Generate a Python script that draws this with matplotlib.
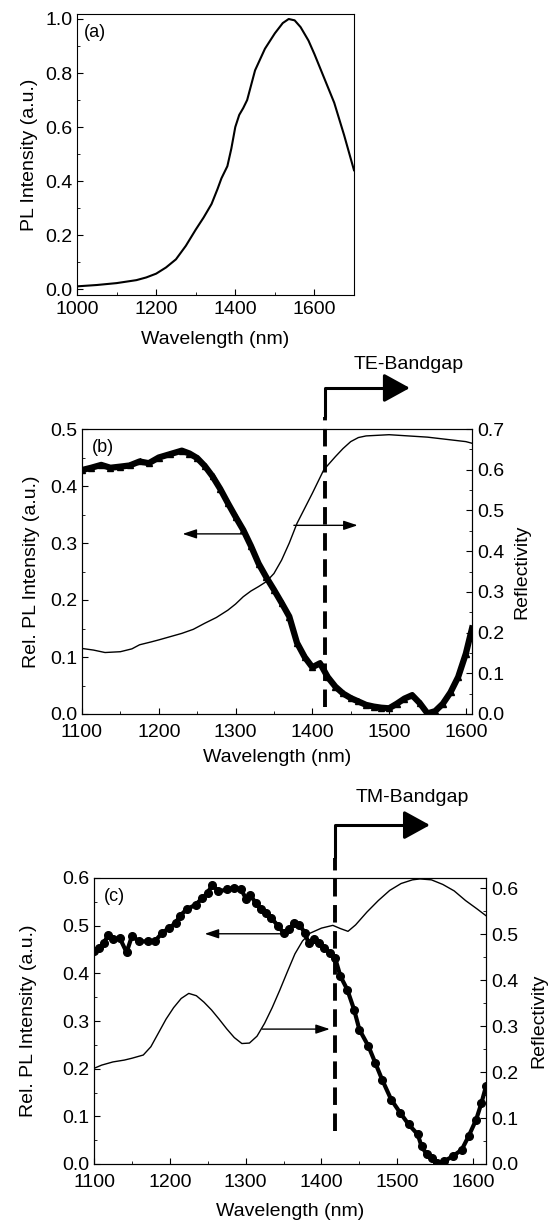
import matplotlib
matplotlib.use('Agg')
import matplotlib.pyplot as plt
import matplotlib.transforms as mtransforms
from matplotlib.ticker import MultipleLocator
import numpy as np

plt.rcParams['font.family'] = ['Liberation Sans', 'DejaVu Sans']
plt.rcParams['font.size'] = 14
plt.rcParams['xtick.labelsize'] = 14
plt.rcParams['ytick.labelsize'] = 14
plt.rcParams['xtick.direction'] = 'in'
plt.rcParams['ytick.direction'] = 'in'
plt.rcParams['xtick.major.size'] = 4
plt.rcParams['ytick.major.size'] = 4
plt.rcParams['xtick.minor.size'] = 2
plt.rcParams['ytick.minor.size'] = 2
plt.rcParams['xtick.major.pad'] = 4.5

# (a) PL spectrum
wl_a = np.array([1000, 1050, 1100, 1150, 1175, 1200, 1225, 1250, 1275, 1300, 1320,
                 1340, 1355, 1365, 1380, 1390, 1400, 1410, 1420, 1430, 1440, 1450,
                 1475, 1500, 1520, 1535, 1550, 1565, 1585, 1600, 1625, 1650, 1675, 1700])
pl_a = np.array([0.01, 0.015, 0.022, 0.033, 0.043, 0.057, 0.08, 0.11, 0.16, 0.22, 0.265,
                 0.315, 0.37, 0.41, 0.455, 0.52, 0.60, 0.645, 0.67, 0.70, 0.755, 0.81,
                 0.89, 0.947, 0.985, 1.0, 0.995, 0.97, 0.92, 0.87, 0.78, 0.69, 0.57, 0.44])

# (b) TE: PL and reflectivity
wl_b_pl = np.array([1100, 1112, 1125, 1137, 1150, 1162, 1175, 1187, 1200, 1215, 1230,
                    1240, 1250, 1260, 1270, 1280, 1290, 1300, 1310, 1320, 1330, 1340,
                    1350, 1360, 1370, 1380, 1390, 1400, 1410, 1420, 1430, 1440, 1450,
                    1460, 1470, 1480, 1490, 1500, 1510, 1520, 1530, 1540, 1550, 1560,
                    1570, 1580, 1590, 1600, 1608])
pl_b = np.array([0.428, 0.432, 0.437, 0.432, 0.434, 0.436, 0.443, 0.440, 0.450, 0.456, 0.462,
                 0.457, 0.449, 0.435, 0.417, 0.395, 0.370, 0.346, 0.323, 0.295, 0.264, 0.240,
                 0.218, 0.195, 0.171, 0.125, 0.100, 0.082, 0.089, 0.065, 0.048, 0.036, 0.028,
                 0.022, 0.016, 0.013, 0.011, 0.010, 0.018, 0.027, 0.033, 0.019, 0.001, 0.005,
                 0.018, 0.038, 0.065, 0.106, 0.150])
wl_b_r = np.array([1100, 1115, 1130, 1150, 1165, 1175, 1190, 1200, 1215, 1230, 1245,
                   1260, 1275, 1290, 1300, 1310, 1320, 1330, 1340, 1350, 1360, 1370,
                   1380, 1390, 1400, 1415, 1430, 1440, 1450, 1460, 1470, 1500, 1550,
                   1600, 1608])
refl_b = np.array([0.161, 0.157, 0.151, 0.153, 0.160, 0.170, 0.177, 0.182, 0.190, 0.198,
                   0.208, 0.223, 0.237, 0.255, 0.270, 0.288, 0.302, 0.313, 0.325, 0.345,
                   0.378, 0.420, 0.468, 0.505, 0.542, 0.600, 0.632, 0.652, 0.669, 0.679,
                   0.683, 0.686, 0.680, 0.669, 0.665])

# (c) TM: PL and reflectivity
wl_c_pl = np.array([1100, 1106, 1113, 1119, 1125, 1134, 1143, 1150, 1160, 1171, 1180,
                    1190, 1199, 1208, 1213, 1222, 1234, 1243, 1250, 1256, 1264, 1276,
                    1285, 1294, 1301, 1306, 1313, 1320, 1327, 1334, 1343, 1350, 1357,
                    1364, 1371, 1378, 1383, 1390, 1397, 1404, 1411, 1418, 1425, 1434,
                    1443, 1450, 1462, 1471, 1480, 1492, 1504, 1515, 1527, 1532, 1539,
                    1546, 1553, 1562, 1573, 1585, 1594, 1604, 1611, 1617])
pl_c = np.array([0.446, 0.453, 0.464, 0.481, 0.471, 0.474, 0.444, 0.478, 0.467, 0.467, 0.467,
                 0.485, 0.495, 0.506, 0.520, 0.534, 0.544, 0.558, 0.569, 0.586, 0.572, 0.576,
                 0.579, 0.576, 0.555, 0.565, 0.548, 0.534, 0.527, 0.516, 0.499, 0.485, 0.492,
                 0.506, 0.502, 0.485, 0.464, 0.471, 0.464, 0.453, 0.443, 0.432, 0.394, 0.366,
                 0.324, 0.282, 0.247, 0.212, 0.177, 0.135, 0.107, 0.083, 0.062, 0.037, 0.020,
                 0.013, 0.002, 0.006, 0.016, 0.030, 0.058, 0.093, 0.128, 0.163])
wl_c_r = np.array([1100, 1110, 1125, 1140, 1150, 1165, 1175, 1185, 1195, 1205, 1215,
                   1225, 1235, 1245, 1255, 1265, 1275, 1285, 1295, 1305, 1315, 1325,
                   1335, 1345, 1355, 1365, 1375, 1385, 1400, 1415, 1425, 1435, 1445,
                   1460, 1475, 1490, 1505, 1520, 1530, 1545, 1560, 1575, 1590, 1605, 1617])
refl_c = np.array([0.208, 0.215, 0.222, 0.226, 0.230, 0.237, 0.255, 0.285, 0.315, 0.340,
                   0.360, 0.371, 0.366, 0.352, 0.335, 0.315, 0.294, 0.275, 0.262, 0.263,
                   0.278, 0.306, 0.340, 0.378, 0.418, 0.457, 0.485, 0.502, 0.513, 0.519,
                   0.512, 0.506, 0.520, 0.548, 0.573, 0.595, 0.610, 0.618, 0.620, 0.618,
                   0.608, 0.594, 0.573, 0.555, 0.540])

W, H = 553, 1224
fig = plt.figure(figsize=(W / 100, H / 100), dpi=100)


def box(l, r, t, b):
    return [l / W, 1 - b / H, (r - l) / W, (b - t) / H]


# ---- (a)
ax1 = fig.add_axes(box(77, 354, 14, 295))
ax1.plot(wl_a, pl_a, color='k', lw=1.5)
ax1.set_xlim(1000, 1700)
ax1.set_ylim(-0.022, 1.0185)
ax1.xaxis.set_major_locator(MultipleLocator(200))
ax1.xaxis.set_minor_locator(MultipleLocator(100))
ax1.yaxis.set_major_locator(MultipleLocator(0.2))
ax1.yaxis.set_minor_locator(MultipleLocator(0.1))
ax1.set_xlabel('Wavelength (nm)', labelpad=9)
ax1.set_ylabel('PL Intensity (a.u.)', labelpad=5)
ax1.text(0.025, 0.965, '(a)', transform=ax1.transAxes, va='top', fontsize=13)


def bandgap(ax, x0, x1, ybot, ytop_dash, yarrow, text, xtext, ytext):
    tr = mtransforms.blended_transform_factory(ax.transData, ax.transAxes)
    ax.plot([x0, x0], [ybot, ytop_dash], color='k', lw=2.8, ls=(0, (4.5, 2.2)),
            transform=tr, clip_on=False, zorder=5)
    ax.plot([x0, x0, x1 - 20], [ytop_dash, yarrow, yarrow], color='k', lw=2.2,
            transform=tr, clip_on=False, solid_capstyle='butt', zorder=5)
    ax.annotate('', xy=(x1, yarrow), xytext=(x1 - 25, yarrow), xycoords=tr, textcoords=tr,
                arrowprops=dict(arrowstyle='-|>,head_length=1.0,head_width=0.55',
                                color='k', lw=2.2, mutation_scale=16, shrinkA=0, shrinkB=0),
                annotation_clip=False)
    ax.text(xtext, ytext, text, transform=tr, va='center', ha='left', fontsize=14)


def side_arrow(ax, x0, x1, y):
    ax.annotate('', xy=(x1, y), xytext=(x0, y),
                arrowprops=dict(arrowstyle='-|>,head_length=0.6,head_width=0.2',
                                color='k', lw=1.0, mutation_scale=14, shrinkA=0, shrinkB=0))


# ---- (b)
ax2 = fig.add_axes(box(82, 472, 429, 714))
ax2.plot(wl_b_pl, pl_b, color='k', lw=4.5, marker='^', ms=4.5)
ax2.set_xlim(1100, 1608)
ax2.set_ylim(0, 0.5)
ax2.xaxis.set_major_locator(MultipleLocator(100))
ax2.xaxis.set_minor_locator(MultipleLocator(50))
ax2.yaxis.set_major_locator(MultipleLocator(0.1))
ax2.yaxis.set_minor_locator(MultipleLocator(0.05))
ax2.tick_params(axis='x', which='major', pad=7)
ax2.set_xlabel('Wavelength (nm)', labelpad=6)
ax2.set_ylabel('Rel. PL Intensity (a.u.)', labelpad=7)
ax2.text(0.025, 0.965, '(b)', transform=ax2.transAxes, va='top', fontsize=13)
ax2r = ax2.twinx()
ax2r.plot(wl_b_r, refl_b, color='k', lw=1.0)
ax2r.set_ylim(0, 0.7)
ax2r.yaxis.set_major_locator(MultipleLocator(0.1))
ax2r.yaxis.set_minor_locator(MultipleLocator(0.05))
ax2r.set_ylabel('Reflectivity', labelpad=7)
side_arrow(ax2, 1309, 1231, 0.316)
side_arrow(ax2, 1376, 1459, 0.331)
bandgap(ax2, 1416, 1527, 0.025, 1.042, 1.144, 'TE-Bandgap', 1454, 1.225)

# ---- (c)
ax3 = fig.add_axes(box(94, 486, 878, 1164))
ax3.plot(wl_c_pl, pl_c, color='k', lw=3.0, marker='o', ms=5.5, ls='-')
ax3.set_xlim(1100, 1617)
ax3.set_ylim(0, 0.6)
ax3.xaxis.set_major_locator(MultipleLocator(100))
ax3.xaxis.set_minor_locator(MultipleLocator(50))
ax3.yaxis.set_major_locator(MultipleLocator(0.1))
ax3.yaxis.set_minor_locator(MultipleLocator(0.05))
ax3.tick_params(axis='x', which='major', pad=7)
ax3.set_xlabel('Wavelength (nm)', labelpad=9)
ax3.set_ylabel('Rel. PL Intensity (a.u.)', labelpad=18)
ax3.text(0.025, 0.965, '(c)', transform=ax3.transAxes, va='top', fontsize=13)
ax3r = ax3.twinx()
ax3r.plot(wl_c_r, refl_c, color='k', lw=1.0)
ax3r.set_ylim(0, 0.622)
ax3r.yaxis.set_major_locator(MultipleLocator(0.1))
ax3r.yaxis.set_minor_locator(MultipleLocator(0.05))
ax3r.set_ylabel('Reflectivity', labelpad=9)
side_arrow(ax3, 1348, 1246, 0.483)
side_arrow(ax3, 1322, 1411, 0.283)
bandgap(ax3, 1418, 1543, 0.114, 1.07, 1.185, 'TM-Bandgap', 1445, 1.28)

fig.savefig('out.png', dpi=100)
